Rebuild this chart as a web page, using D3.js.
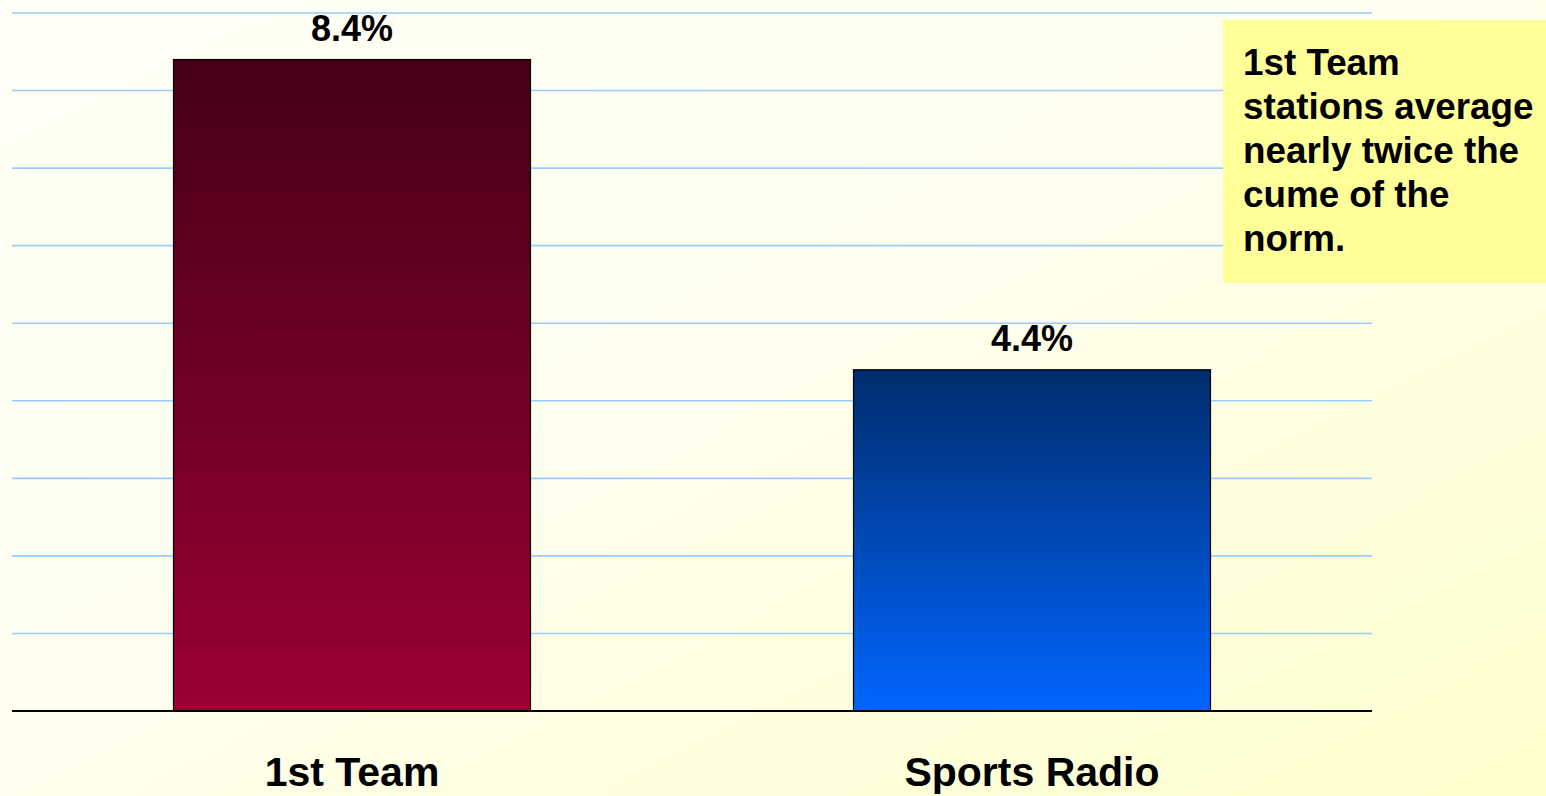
<!DOCTYPE html>
<html>
<head>
<meta charset="utf-8">
<script src="https://cdn.jsdelivr.net/npm/d3@7"></script>
<style>
  html, body { margin: 0; padding: 0; overflow: hidden; }
  svg { display: block; }
</style>
</head>
<body>
<svg id="chart" width="1546" height="796"></svg>
<script>
// Average cume share by station group
const categories = ["1st Team", "Sports Radio"];
const values = [8.4, 4.4];
const valueLabels = ["8.4%", "4.4%"];
const gridTicks = [1, 2, 3, 4, 5, 6, 7, 8, 9];
const noteLines = ["1st Team", "stations average", "nearly twice the", "cume of the", "norm."];

const W = 1546, H = 796;
const plot = { left: 12, right: 1372, top: 13, bottom: 711 };
const font = "'Liberation Sans', Arial, sans-serif";

const svg = d3.select("#chart");
const defs = svg.append("defs");

// Background wash: near-white at the top left fading to pale yellow
const bg = defs.append("linearGradient").attr("id", "bg")
  .attr("x1", "0%").attr("y1", "0%").attr("x2", "100%").attr("y2", "100%");
bg.append("stop").attr("offset", "0%").attr("stop-color", "#FFFFF6");
bg.append("stop").attr("offset", "45%").attr("stop-color", "#FFFFF0");
bg.append("stop").attr("offset", "100%").attr("stop-color", "#FFFFCC");
svg.append("rect").attr("width", W).attr("height", H).attr("fill", "url(#bg)");

// Vertical bar gradients
const barColors = [
  ["#460016", "#9A0033"],
  ["#002C6C", "#0066FF"]
];
barColors.forEach((c, i) => {
  const g = defs.append("linearGradient").attr("id", "bar" + i)
    .attr("x1", "0").attr("y1", "0").attr("x2", "0").attr("y2", "1");
  g.append("stop").attr("offset", "0%").attr("stop-color", c[0]);
  g.append("stop").attr("offset", "100%").attr("stop-color", c[1]);
});

const x = d3.scaleBand()
  .domain(categories)
  .range([plot.left, plot.right])
  .paddingInner(0.475)
  .paddingOuter(0.2375);

const y = d3.scaleLinear()
  .domain([0, 9])
  .range([plot.bottom, plot.top]);

// Horizontal gridlines
svg.append("g")
  .selectAll("line")
  .data(gridTicks)
  .join("line")
  .attr("x1", plot.left).attr("x2", plot.right)
  .attr("y1", d => y(d)).attr("y2", d => y(d))
  .attr("stroke", "#99CCFF")
  .attr("stroke-width", 1.6);

// Bars
svg.append("g")
  .selectAll("rect")
  .data(categories)
  .join("rect")
  .attr("x", d => x(d))
  .attr("width", x.bandwidth())
  .attr("y", (d, i) => y(values[i]))
  .attr("height", (d, i) => y(0) - y(values[i]))
  .attr("fill", (d, i) => `url(#bar${i})`)
  .attr("stroke", "#000")
  .attr("stroke-width", 1.2);

// Baseline
svg.append("line")
  .attr("x1", plot.left).attr("x2", plot.right)
  .attr("y1", y(0)).attr("y2", y(0))
  .attr("stroke", "#000").attr("stroke-width", 2);

// Value labels
svg.append("g")
  .selectAll("text")
  .data(categories)
  .join("text")
  .attr("x", d => x(d) + x.bandwidth() / 2)
  .attr("y", (d, i) => y(values[i]) - 19)
  .attr("text-anchor", "middle")
  .attr("font-family", font)
  .attr("font-weight", "bold")
  .attr("font-size", 36)
  .attr("fill", "#000")
  .text((d, i) => valueLabels[i]);

// Category labels
svg.append("g")
  .selectAll("text")
  .data(categories)
  .join("text")
  .attr("x", d => x(d) + x.bandwidth() / 2)
  .attr("y", 786)
  .attr("text-anchor", "middle")
  .attr("font-family", font)
  .attr("font-weight", "bold")
  .attr("font-size", 41)
  .attr("fill", "#000")
  .text(d => d);

// Callout note
const note = svg.append("g");
note.append("rect")
  .attr("x", 1223).attr("y", 20)
  .attr("width", W - 1223).attr("height", 263)
  .attr("fill", "#FFFF99");
note.append("text")
  .attr("font-family", font)
  .attr("font-weight", "bold")
  .attr("font-size", 36.8)
  .attr("fill", "#000")
  .selectAll("tspan")
  .data(noteLines)
  .join("tspan")
  .attr("x", 1243)
  .attr("y", (d, i) => 75 + i * 44)
  .text(d => d);
</script>
</body>
</html>
